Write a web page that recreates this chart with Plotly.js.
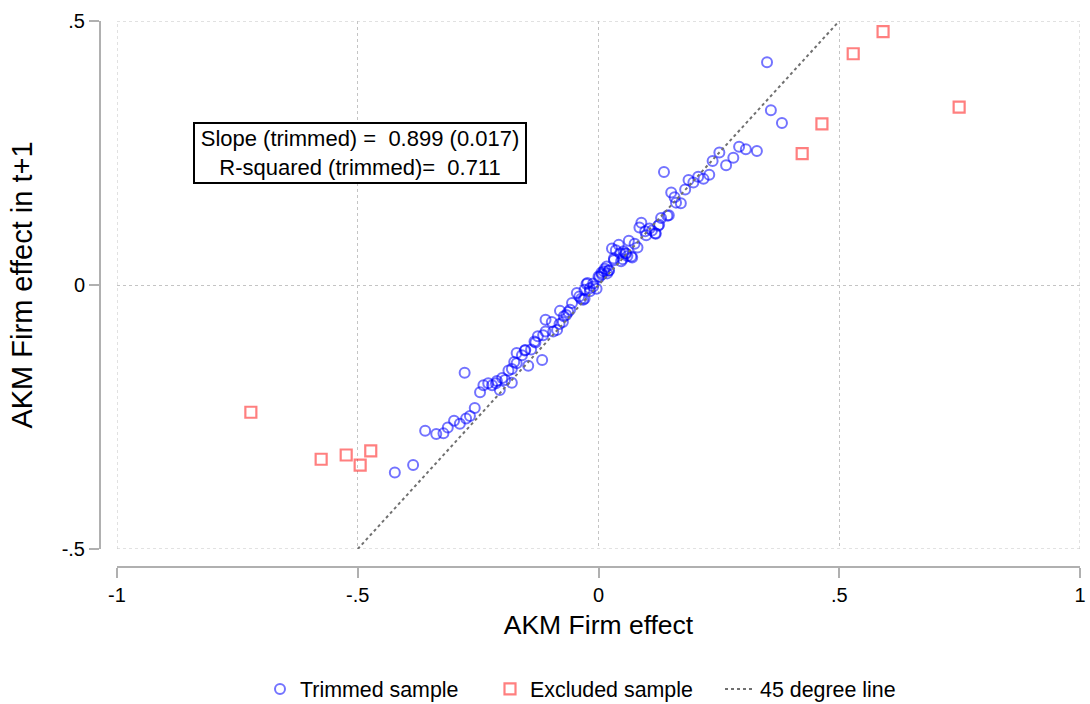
<!DOCTYPE html>
<html>
<head>
<meta charset="utf-8">
<script src="https://cdn.plot.ly/plotly-3.0.1.min.js"></script>
<style>html,body{margin:0;padding:0;background:#fff;}#chart{width:1090px;height:704px;}</style>
</head>
<body>
<div id="chart"></div>
<script>
// Trimmed sample (AKM firm effect in t, in t+1)
const trimmedX = [-0.423,-0.385,-0.360,-0.337,-0.322,-0.313,-0.300,-0.288,-0.275,-0.267,-0.278,-0.257,-0.246,-0.239,-0.229,-0.221,-0.213,-0.205,-0.200,-0.194,-0.187,-0.180,-0.180,-0.175,-0.170,-0.159,-0.152,-0.146,-0.140,-0.131,-0.126,-0.117,-0.115,-0.110,-0.110,-0.097,-0.094,-0.086,-0.081,-0.080,-0.074,-0.072,-0.067,-0.063,-0.059,-0.055,-0.045,-0.040,-0.032,-0.029,-0.025,-0.023,-0.018,-0.011,-0.004,0.002,0.007,0.011,0.017,0.022,0.032,0.028,0.036,0.042,0.045,0.047,0.050,0.056,0.060,0.063,0.070,0.075,0.081,0.085,0.089,0.097,0.099,0.106,0.111,0.119,0.124,0.130,0.136,0.143,0.151,0.158,0.161,0.171,0.180,0.187,0.197,0.207,0.218,0.230,0.237,0.251,0.265,0.280,0.292,0.306,0.329,0.350,0.358,0.381,0.018,-0.011,-0.036,0.006,0.000,-0.029,-0.018,0.021,0.146,0.126,0.118,0.052,0.057,0.068,0.032,0.013,-0.153,-0.170,-0.211,-0.133];
const trimmedY = [-0.355,-0.341,-0.276,-0.282,-0.281,-0.270,-0.257,-0.263,-0.253,-0.248,-0.166,-0.233,-0.203,-0.190,-0.186,-0.190,-0.186,-0.199,-0.176,-0.180,-0.162,-0.185,-0.159,-0.146,-0.129,-0.133,-0.123,-0.153,-0.122,-0.109,-0.097,-0.142,-0.095,-0.066,-0.088,-0.070,-0.088,-0.085,-0.074,-0.049,-0.070,-0.059,-0.057,-0.051,-0.047,-0.034,-0.015,-0.022,-0.028,-0.026,0.002,0.004,-0.012,-0.003,-0.007,0.015,0.020,0.026,0.035,0.028,0.050,0.069,0.066,0.076,0.060,0.045,0.049,0.060,0.055,0.084,0.052,0.078,0.071,0.109,0.118,0.102,0.094,0.107,0.103,0.097,0.112,0.127,0.214,0.131,0.175,0.166,0.156,0.155,0.181,0.199,0.194,0.205,0.201,0.209,0.235,0.251,0.227,0.241,0.262,0.257,0.254,0.422,0.331,0.307,0.022,0.003,-0.026,0.023,0.016,-0.009,-0.006,0.027,0.132,0.114,0.098,0.064,0.059,0.054,0.047,0.031,-0.124,-0.148,-0.182,-0.107];
// Excluded sample
const excludedX = [-0.722,-0.576,-0.524,-0.495,-0.473,0.591,0.529,0.749,0.464,0.423];
const excludedY = [-0.241,-0.330,-0.322,-0.341,-0.314,0.480,0.438,0.337,0.305,0.249];
// 45 degree line
const lineX = [-0.5, 0.5];
const lineY = [-0.5, 0.5];
// Tick labels
const xTickVals = [-1,-0.5,0,0.5,1];
const xTickText = ['-1','-.5','0','.5','1'];
const yTickVals = [-0.5,0,0.5];
const yTickText = ['-.5','0','.5'];
const seriesNames = ['Trimmed sample','Excluded sample','45 degree line'];
const noteLines = ['Slope (trimmed) = &nbsp;0.899 (0.017)','R-squared (trimmed)= &nbsp;0.711'];

const FONT = 'Liberation Sans, Arial, Helvetica, sans-serif';
const GRID = '#c4c4c4';

const traces = [
  {x: trimmedX, y: trimmedY, type:'scatter', mode:'markers', name: seriesNames[0],
   marker:{symbol:'circle-open', size:10, color:'rgba(0,0,255,0.55)', line:{width:2, color:'rgba(0,0,255,0.55)'}}},
  {x: excludedX, y: excludedY, type:'scatter', mode:'markers', name: seriesNames[1],
   marker:{symbol:'square-open', size:11, color:'rgba(255,0,0,0.5)', line:{width:2.2, color:'rgba(255,0,0,0.5)'}}},
  {x: lineX, y: lineY, type:'scatter', mode:'lines', name: seriesNames[2],
   line:{color:'#707070', width:2, dash:'dot'}}
];

// boundary grid lines (at the range edges) drawn from the tick arrays
const shapes = [];
[xTickVals[0], xTickVals[xTickVals.length-1]].forEach(v => shapes.push(
  {type:'line', xref:'x', yref:'y', x0:v, x1:v, y0:yTickVals[0], y1:yTickVals[yTickVals.length-1],
   line:{color:GRID, width:1, dash:'dot'}, layer:'below'}));
[yTickVals[0], yTickVals[yTickVals.length-1]].forEach(v => shapes.push(
  {type:'line', xref:'x', yref:'y', y0:v, y1:v, x0:xTickVals[0], x1:xTickVals[xTickVals.length-1],
   line:{color:GRID, width:1, dash:'dot'}, layer:'below'}));

const layout = {
  width:1090, height:704,
  paper_bgcolor:'#fff', plot_bgcolor:'#fff',
  margin:{l:100, r:10, t:21, b:137},
  font:{family:FONT, color:'#000', size:20},
  showlegend:true,
  legend:{orientation:'h', x:260/1090, xanchor:'left', xref:'container', y:15/704, yref:'container', yanchor:'middle',
          font:{size:21.4}, entrywidth:185, entrywidthmode:'pixels', itemwidth:30},
  xaxis:{
    range:[-1,1], domain:[17/980,1], anchor:'free', position:0, automargin:false,
    tickvals:xTickVals, ticktext:xTickText,
    showline:true, linecolor:'#b0b0b0', linewidth:2,
    ticks:'outside', ticklen:10, tickwidth:2, tickcolor:'#b0b0b0',
    showgrid:true, gridcolor:GRID, griddash:'dot', gridwidth:1,
    zeroline:false, tickfont:{size:20},
    title:{text:'AKM Firm effect', font:{size:26.5}, standoff:9}
  },
  yaxis:{
    range:[-0.5,0.5], domain:[18/546,1], anchor:'free', position:0, automargin:false,
    tickvals:yTickVals, ticktext:yTickText,
    showline:true, linecolor:'#b0b0b0', linewidth:2,
    ticks:'outside', ticklen:10, tickwidth:2, tickcolor:'#b0b0b0',
    showgrid:true, gridcolor:GRID, griddash:'dot', gridwidth:1,
    zeroline:false, tickfont:{size:20},
    title:{text:'AKM Firm effect in t+1', font:{size:29}, standoff:20}
  },
  shapes: shapes,
  annotations:[{
    x:-0.495, y:0.25, xref:'x', yref:'y', showarrow:false,
    text: noteLines.join('<br>'), align:'center',
    font:{size:22}, width:326, height:54, valign:'middle',
    bordercolor:'#000', borderwidth:2, borderpad:2, bgcolor:'#fff'
  }]
};

Plotly.newPlot('chart', traces, layout, {displayModeBar:false, staticPlot:true});
</script>
</body>
</html>
